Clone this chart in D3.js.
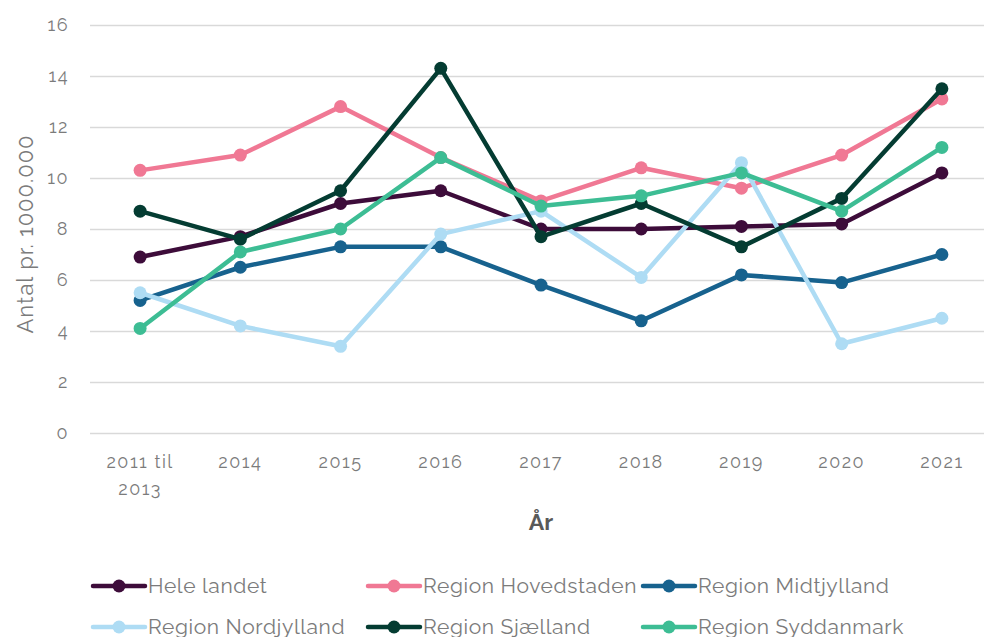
<!DOCTYPE html>
<meta charset="utf-8">
<style>
  body { margin: 0; background: #fff; }
  text { font-family: Raleway, Lato, "Open Sans", sans-serif; }
</style>
<body>
<div class="chart"></div>
<script src="https://d3js.org/d3.v7.min.js"></script>
<script>
    // data
    const years = ["2011 til 2013", "2014", "2015", "2016", "2017", "2018", "2019", "2020", "2021"];
    const seriesNames = ["Hele landet", "Region Hovedstaden", "Region Midtjylland",
        "Region Nordjylland", "Region Sjælland", "Region Syddanmark"];
    const seriesColors = ["#3d0c3a", "#f07894", "#17628e", "#aedcf4", "#043c32", "#3dbd94"];
    const heleLandet = [6.9, 7.7, 9.0, 9.5, 8.0, 8.0, 8.1, 8.2, 10.2];
    const hovedstaden = [10.3, 10.9, 12.8, 10.8, 9.1, 10.4, 9.6, 10.9, 13.1];
    const midtjylland = [5.2, 6.5, 7.3, 7.3, 5.8, 4.4, 6.2, 5.9, 7.0];
    const nordjylland = [5.5, 4.2, 3.4, 7.8, 8.7, 6.1, 10.6, 3.5, 4.5];
    const sjaelland = [8.7, 7.6, 9.5, 14.3, 7.7, 9.0, 7.3, 9.2, 13.5];
    const syddanmark = [4.1, 7.1, 8.0, 10.8, 8.9, 9.3, 10.2, 8.7, 11.2];
    const yTicks = [0, 2, 4, 6, 8, 10, 12, 14, 16];

    const allValues = [heleLandet, hovedstaden, midtjylland, nordjylland, sjaelland, syddanmark];
    const series = seriesNames.map((name, i) => ({name: name, color: seriesColors[i], values: allValues[i]}));

    const width = 984, height = 637;
    const plot = {left: 90, right: 992, top: 25, bottom: 433};
    const textColor = "#7b7b7b";

    const svg = d3.select(".chart").append("svg")
        .attr("width", width)
        .attr("height", height);

    const x = d3.scaleBand().domain(years).range([plot.left, plot.right]);
    const y = d3.scaleLinear().domain([0, 16]).range([plot.bottom, plot.top]);

    // gridlines + y labels
    const yAxis = svg.append("g")
        .attr("transform", `translate(${plot.left},0)`)
        .call(d3.axisLeft(y).tickValues(yTicks).tickSize(-(plot.right - plot.left)).tickPadding(21));
    yAxis.select(".domain").remove();
    yAxis.selectAll(".tick line").attr("stroke", "#d9d9d9").attr("stroke-width", 1.5);
    yAxis.selectAll(".tick text")
        .attr("fill", textColor)
        .style("font-size", "18px")
        .style("letter-spacing", "1.5px");

    // x labels, first one wraps on two lines
    const xAxis = svg.append("g")
        .attr("transform", `translate(0,${plot.bottom})`)
        .call(d3.axisBottom(x).tickSize(0).tickPadding(0));
    xAxis.select(".domain").remove();
    xAxis.selectAll(".tick text").remove();
    xAxis.selectAll(".tick").each(function (d) {
        const parts = d === "2011 til 2013" ? ["2011 til", "2013"] : [d];
        const t = d3.select(this).append("text")
            .attr("fill", textColor)
            .attr("text-anchor", "middle")
            .style("font-size", "18px")
            .style("letter-spacing", "1.5px");
        parts.forEach((p, i) => {
            t.append("tspan").attr("x", 0).attr("y", 35 + i * 27).text(p);
        });
    });

    // axis titles
    svg.append("text")
        .attr("transform", `translate(33,${(plot.top + plot.bottom) / 2 + 5}) rotate(-90)`)
        .attr("text-anchor", "middle")
        .attr("fill", textColor)
        .style("font-size", "22px")
        .style("letter-spacing", "1px")
        .text("Antal pr. 1000.000");

    svg.append("text")
        .attr("x", (plot.left + plot.right) / 2)
        .attr("y", 530)
        .attr("text-anchor", "middle")
        .attr("fill", "#595959")
        .style("font-size", "23px")
        .style("font-weight", "bold")
        .text("År");

    // lines
    const line = d3.line()
        .x((d, i) => x(years[i]) + x.bandwidth() / 2)
        .y(d => y(d));

    const g = svg.append("g");
    series.forEach(s => {
        g.append("path")
            .datum(s.values)
            .attr("fill", "none")
            .attr("stroke", s.color)
            .attr("stroke-width", 4.5)
            .attr("stroke-linejoin", "round")
            .attr("d", line);
        g.selectAll(null)
            .data(s.values)
            .join("circle")
            .attr("cx", (d, i) => x(years[i]) + x.bandwidth() / 2)
            .attr("cy", d => y(d))
            .attr("r", 6.5)
            .attr("fill", s.color);
    });

    // legend
    const legend = svg.append("g");
    series.forEach((s, i) => {
        const lx = 93 + (i % 3) * 275;
        const ly = 586 + Math.floor(i / 3) * 41;
        const item = legend.append("g").attr("transform", `translate(${lx},${ly})`);
        item.append("line")
            .attr("x1", 0).attr("x2", 52)
            .attr("stroke", s.color)
            .attr("stroke-width", 4.5)
            .attr("stroke-linecap", "round");
        item.append("circle").attr("cx", 26).attr("r", 6.5).attr("fill", s.color);
        item.append("text")
            .attr("x", 55)
            .attr("y", 7)
            .attr("fill", textColor)
            .style("font-size", "21px")
            .style("letter-spacing", "0.6px")
            .text(s.name);
    });
</script>
</body>
